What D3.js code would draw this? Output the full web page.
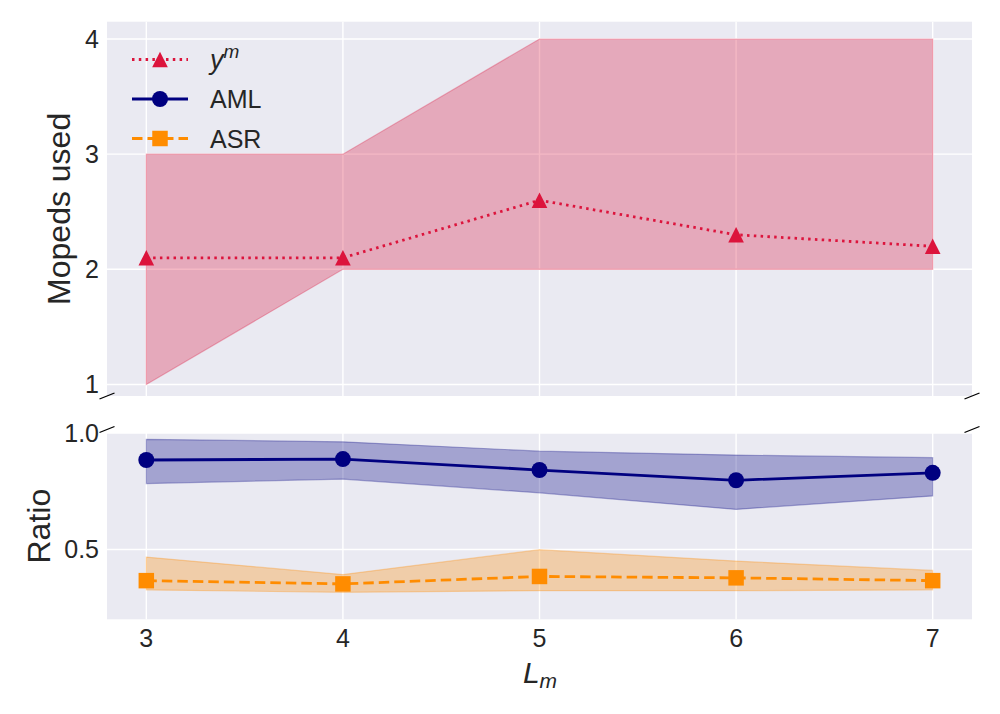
<!DOCTYPE html>
<html>
<head>
<meta charset="utf-8">
<script src="https://cdn.jsdelivr.net/npm/d3@7"></script>
<style>
  body { margin: 0; background: #fff; }
  svg { font-family: "Liberation Sans", Arial, sans-serif; }
</style>
</head>
<body>
<svg id="chart" width="1000" height="714"></svg>
<script>
// x values (L_m)
const lm = [3, 4, 5, 6, 7];

// mopeds used (top panel)
const ymMean = [2.1, 2.1, 2.6, 2.3, 2.2];
const ymLow = [1, 2, 2, 2, 2];
const ymHigh = [3, 3, 4, 4, 4];

// ratio (bottom panel)
const amlMean = [0.884, 0.888, 0.841, 0.797, 0.829];
const amlLow = [0.783, 0.802, 0.743, 0.672, 0.730];
const amlHigh = [0.973, 0.962, 0.922, 0.905, 0.894];
const asrMean = [0.366, 0.352, 0.384, 0.378, 0.366];
const asrLow = [0.326, 0.316, 0.323, 0.323, 0.326];
const asrHigh = [0.467, 0.392, 0.499, 0.450, 0.410];

const xTicks = [3, 4, 5, 6, 7];
const topTicks = [1, 2, 3, 4];
const bottomTicks = [0.5, 1.0];

const svg = d3.select('#chart');
const left = 107, right = 972;
const topPanel = {y0: 21.7, y1: 396};
const botPanel = {y0: 433, y1: 619.3};
const bg = '#EAEAF2';
const tickSize = 25, labelSize = 32;

const x = d3.scaleLinear().domain([2.8, 7.2]).range([left, right]);
const yTop = d3.scaleLinear().domain([0.9, 4.15]).range([topPanel.y1, topPanel.y0]);
const yBot = d3.scaleLinear().domain([0.2, 1.0]).range([botPanel.y1, botPanel.y0]);

// matplotlib style '^' marker: as tall as it is wide
const triangleUp = {
  draw(ctx, size) {
    const r = Math.sqrt(size) / 2;
    ctx.moveTo(0, -r);
    ctx.lineTo(r, r);
    ctx.lineTo(-r, r);
    ctx.closePath();
  }
};

const styles = {
  ym: {color: 'crimson', dash: '2.5,4.3', symbol: triangleUp, size: 245},
  aml: {color: 'navy', dash: null, symbol: d3.symbolCircle, size: 201},
  asr: {color: 'darkorange', dash: '10.5,5', symbol: d3.symbolSquare, size: 240}
};

function panel(p, yScale, ticks, fmt) {
  const g = svg.append('g');
  g.append('rect')
    .attr('x', left).attr('y', p.y0)
    .attr('width', right - left).attr('height', p.y1 - p.y0)
    .attr('fill', bg);
  // grid
  g.selectAll('.gx').data(xTicks).enter().append('line')
    .attr('x1', d => x(d)).attr('x2', d => x(d))
    .attr('y1', p.y0).attr('y2', p.y1)
    .attr('stroke', '#fff').attr('stroke-width', 1.4);
  g.selectAll('.gy').data(ticks).enter().append('line')
    .attr('x1', left).attr('x2', right)
    .attr('y1', d => yScale(d)).attr('y2', d => yScale(d))
    .attr('stroke', '#fff').attr('stroke-width', 1.4);
  // tick labels
  g.selectAll('.ty').data(ticks).enter().append('text')
    .attr('x', 99).attr('y', d => yScale(d))
    .attr('dy', '0.36em')
    .attr('text-anchor', 'end')
    .attr('font-size', tickSize).attr('fill', '#262626')
    .text(fmt);
  return g;
}

function band(g, low, high, color) {
  const area = d3.area()
    .x((d, i) => x(lm[i]))
    .y0((d, i) => g.yScale(low[i]))
    .y1((d, i) => g.yScale(high[i]));
  g.sel.append('path')
    .attr('d', area(lm))
    .attr('fill', color).attr('fill-opacity', 0.3)
    .attr('stroke', color).attr('stroke-opacity', 0.3).attr('stroke-width', 1.2);
}

function series(g, vals, st) {
  const line = d3.line()
    .x((d, i) => x(lm[i]))
    .y(d => g.yScale(d));
  g.sel.append('path')
    .attr('d', line(vals))
    .attr('fill', 'none').attr('stroke', st.color)
    .attr('stroke-width', 2.8)
    .attr('stroke-dasharray', st.dash);
  g.sel.selectAll(null).data(vals).enter().append('path')
    .attr('transform', (d, i) => 'translate(' + x(lm[i]) + ',' + g.yScale(d) + ')')
    .attr('d', d3.symbol().type(st.symbol).size(st.size))
    .attr('fill', st.color);
}

const gTop = {sel: panel(topPanel, yTop, topTicks, d => d3.format('d')(d)), yScale: yTop};
const gBot = {sel: panel(botPanel, yBot, bottomTicks, d => d3.format('.1f')(d)), yScale: yBot};

band(gTop, ymLow, ymHigh, 'crimson');
series(gTop, ymMean, styles.ym);

band(gBot, amlLow, amlHigh, 'navy');
band(gBot, asrLow, asrHigh, 'darkorange');
series(gBot, amlMean, styles.aml);
series(gBot, asrMean, styles.asr);

// x tick labels
svg.selectAll('.tx').data(xTicks).enter().append('text')
  .attr('x', d => x(d)).attr('y', 638)
  .attr('dy', '0.36em')
  .attr('text-anchor', 'middle')
  .attr('font-size', tickSize).attr('fill', '#262626')
  .text(d => d);

// axis labels
svg.append('text')
  .attr('transform', 'translate(70,' + ((topPanel.y0 + topPanel.y1) / 2) + ') rotate(-90)')
  .attr('text-anchor', 'middle').attr('font-size', labelSize).attr('fill', '#262626')
  .text('Mopeds used');
svg.append('text')
  .attr('transform', 'translate(50,' + ((botPanel.y0 + botPanel.y1) / 2) + ') rotate(-90)')
  .attr('text-anchor', 'middle').attr('font-size', labelSize).attr('fill', '#262626')
  .text('Ratio');
const xl = svg.append('text')
  .attr('x', 540).attr('y', 683)
  .attr('text-anchor', 'middle').attr('font-size', 30).attr('fill', '#262626')
  .attr('font-style', 'italic');
xl.append('tspan').text('L');
xl.append('tspan').attr('font-size', 21).attr('dy', 5).text('m');

// break marks
[left, right].forEach(xx => {
  [topPanel.y1, botPanel.y0 - 3.5].forEach(yy => {
    svg.append('line')
      .attr('x1', xx - 7.5).attr('y1', yy + 3)
      .attr('x2', xx + 7.5).attr('y2', yy - 3)
      .attr('stroke', '#000').attr('stroke-width', 1.3);
  });
});

// legend
const legendItems = [
  {label: 'y', sup: 'm', st: styles.ym},
  {label: 'AML', st: styles.aml},
  {label: 'ASR', st: styles.asr}
];
const leg = svg.append('g');
legendItems.forEach((it, i) => {
  const yy = 59.5 + i * 39.5;
  leg.append('line')
    .attr('x1', 132).attr('x2', 188).attr('y1', yy).attr('y2', yy)
    .attr('stroke', it.st.color).attr('stroke-width', 2.8)
    .attr('stroke-dasharray', it.st.dash);
  leg.append('path')
    .attr('transform', 'translate(160,' + yy + ')')
    .attr('d', d3.symbol().type(it.st.symbol).size(it.st.size))
    .attr('fill', it.st.color);
  const t = leg.append('text')
    .attr('x', 210).attr('y', yy).attr('dy', '0.36em')
    .attr('font-size', tickSize).attr('fill', '#262626');
  if (it.sup) {
    t.append('tspan').attr('font-style', 'italic').attr('font-size', 27).text(it.label);
    t.append('tspan').attr('font-style', 'italic').attr('font-size', 19).attr('dy', -11).text(it.sup);
  } else {
    t.text(it.label);
  }
});
</script>
</body>
</html>
